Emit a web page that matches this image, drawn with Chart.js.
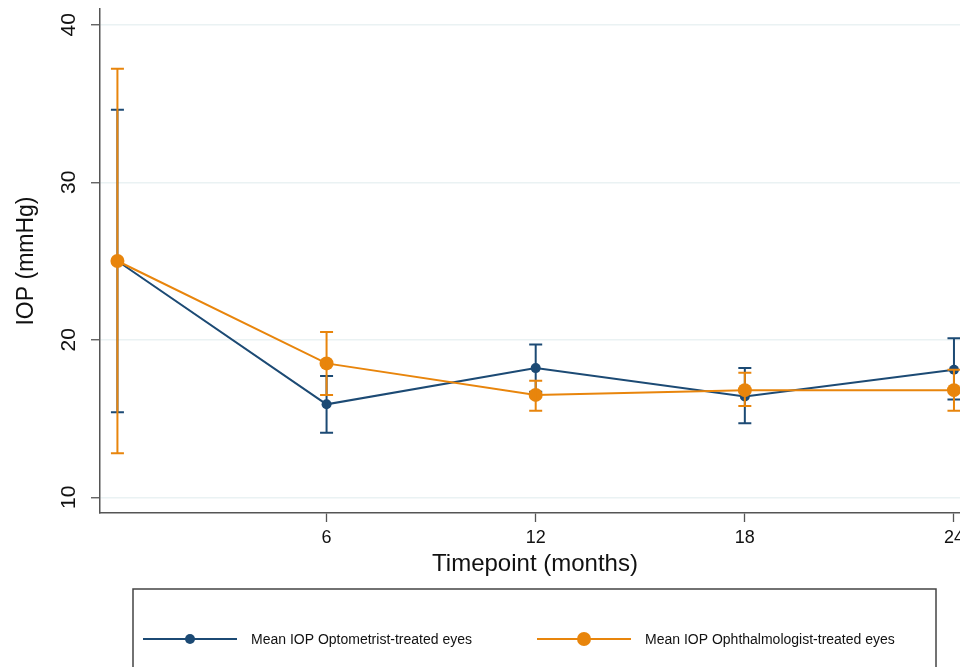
<!doctype html>
<html lang="en">
<head>
<meta charset="utf-8" />
<title>Mean IOP by timepoint</title>
<script src="https://cdn.jsdelivr.net/npm/chart.js"></script>
<style>
  html, body { margin: 0; padding: 0; background: #fff; overflow: hidden; }
  #wrap { position: absolute; left: 0; top: 0; width: 1000px; height: 667px; }
</style>
</head>
<body>
<div id="wrap"><canvas id="iop"></canvas></div>
<script>
const months = [0, 6, 12, 18, 24];
const xTicks = [6, 12, 18, 24];
const yTicks = [10, 20, 30, 40];

const optoMean = [25.0, 15.9, 18.2, 16.4, 18.1];
const optoLow = [15.4, 14.1, 16.7, 14.7, 16.2];
const optoHigh = [34.6, 17.7, 19.7, 18.2, 20.1];

const ophthMean = [25.0, 18.5, 16.5, 16.8, 16.8];
const ophthLow = [12.8, 16.5, 15.5, 15.8, 15.5];
const ophthHigh = [37.2, 20.5, 17.4, 17.9, 18.1];

const seriesLabels = ['Mean IOP Optometrist-treated eyes', 'Mean IOP Ophthalmologist-treated eyes'];
const blue = '#1c4a74';
const orange = '#e8850c';
const axisColor = '#555';
const fontFamily = '"Liberation Sans", Arial, Helvetica, sans-serif';

const errors = [
  { low: optoLow, high: optoHigh, color: blue },
  { low: ophthLow, high: ophthHigh, color: orange },
];

// error bars drawn right after each series so the orange one stays on top
const errorBars = {
  id: 'errorBars',
  afterDatasetDraw(chart, args) {
    const err = errors[args.index];
    if (!err) return;
    const { ctx, scales: { x, y } } = chart;
    ctx.save();
    ctx.strokeStyle = err.color;
    ctx.lineWidth = 2;
    months.forEach((m, i) => {
      const px = x.getPixelForValue(m);
      const top = y.getPixelForValue(err.high[i]);
      const bot = y.getPixelForValue(err.low[i]);
      ctx.beginPath();
      ctx.moveTo(px, top); ctx.lineTo(px, bot);
      ctx.moveTo(px - 6.5, top); ctx.lineTo(px + 6.5, top);
      ctx.moveTo(px - 6.5, bot); ctx.lineTo(px + 6.5, bot);
      ctx.stroke();
    });
    ctx.restore();
  },
};

// Stata-style boxed legend under the axis title
const boxLegend = {
  id: 'boxLegend',
  afterDraw(chart) {
    const { ctx } = chart;
    ctx.save();
    ctx.strokeStyle = '#444';
    ctx.lineWidth = 1.5;
    ctx.strokeRect(133, 589, 803, 120);
    const items = [
      { x: 143, color: blue, r: 5, text: seriesLabels[0] },
      { x: 537, color: orange, r: 7, text: seriesLabels[1] },
    ];
    const cy = 639;
    ctx.font = '14px ' + fontFamily;
    ctx.textBaseline = 'middle';
    items.forEach((it) => {
      ctx.strokeStyle = it.color;
      ctx.lineWidth = 2;
      ctx.beginPath();
      ctx.moveTo(it.x, cy); ctx.lineTo(it.x + 94, cy);
      ctx.stroke();
      ctx.fillStyle = it.color;
      ctx.beginPath();
      ctx.arc(it.x + 47, cy, it.r, 0, Math.PI * 2);
      ctx.fill();
      ctx.fillStyle = '#111';
      ctx.fillText(it.text, it.x + 108, cy + 1);
    });
    ctx.restore();
  },
};

new Chart(document.getElementById('iop'), {
  type: 'line',
  data: {
    datasets: [
      {
        label: seriesLabels[0],
        data: months.map((m, i) => ({ x: m, y: optoMean[i] })),
        borderColor: blue, backgroundColor: blue,
        borderWidth: 2, pointRadius: 5, pointBorderWidth: 0,
        tension: 0, order: 2,
      },
      {
        label: seriesLabels[1],
        data: months.map((m, i) => ({ x: m, y: ophthMean[i] })),
        borderColor: orange, backgroundColor: orange,
        borderWidth: 2, pointRadius: 7, pointBorderWidth: 0,
        tension: 0, order: 1,
      },
    ],
  },
  options: {
    responsive: true,
    maintainAspectRatio: false,
    animation: false,
    events: [],
    layout: { padding: { top: 9, right: 30, bottom: 84, left: 0 } },
    plugins: { legend: { display: false }, tooltip: { enabled: false } },
    scales: {
      x: {
        type: 'linear', min: -0.5, max: 24.46,
        afterBuildTicks: (s) => { s.ticks = xTicks.map((v) => ({ value: v })); },
        afterFit: (s) => { s.height = 70; s.paddingLeft = 0; s.paddingRight = 0; },
        grid: { drawOnChartArea: false, drawTicks: true, tickLength: 9, tickColor: axisColor, tickWidth: 1.3 },
        border: { display: true, color: axisColor, width: 1.5 },
        ticks: { color: '#111', font: { family: fontFamily, size: 18 }, padding: 5, maxRotation: 0 },
        title: { display: true, text: 'Timepoint (months)', color: '#111', font: { family: fontFamily, size: 24 }, padding: { top: 0, bottom: 4 } },
      },
      y: {
        min: 9, max: 41,
        afterBuildTicks: (s) => { s.ticks = yTicks.map((v) => ({ value: v })); },
        afterFit: (s) => { s.width = 100; s.paddingTop = 0; s.paddingBottom = 0; },
        grid: { color: '#eaf2f3', lineWidth: 1.5, drawTicks: true, tickLength: 9, tickColor: axisColor, tickWidth: 1.3 },
        border: { display: true, color: axisColor, width: 1.5 },
        ticks: { color: '#111', font: { family: fontFamily, size: 21 }, padding: 10, minRotation: 90, maxRotation: 90, crossAlign: 'center' },
        title: { display: true, text: 'IOP (mmHg)', color: '#111', font: { family: fontFamily, size: 23 }, padding: { top: 13, bottom: 0 } },
      },
    },
  },
  plugins: [errorBars, boxLegend],
});
</script>
</body>
</html>
